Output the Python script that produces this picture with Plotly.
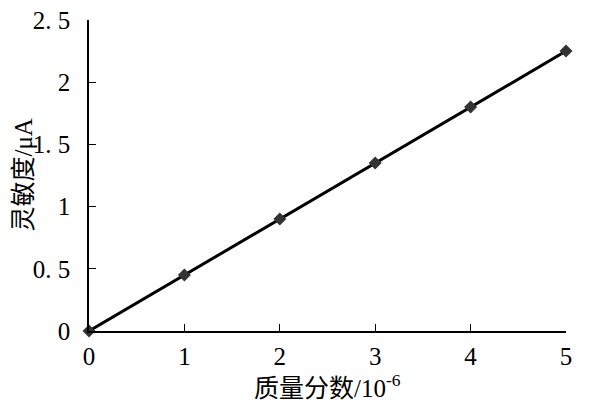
import plotly.graph_objects as go

mass_fraction = [0, 1, 2, 3, 4, 5]
sensitivity = [0, 0.45, 0.9, 1.35, 1.8, 2.25]
y_tickvals = [0, 0.5, 1, 1.5, 2, 2.5]
y_ticktext = ["0", "0. 5", "1", "1. 5", "2", "2. 5"]
x_tickvals = [0, 1, 2, 3, 4, 5]

font_fam = "Liberation Serif, Noto Sans CJK SC, serif"

fig = go.Figure()
fig.add_trace(go.Scatter(
    x=mass_fraction, y=sensitivity, mode="lines+markers",
    line=dict(color="black", width=3),
    marker=dict(symbol="diamond", size=10, color="#333333"),
    cliponaxis=False, showlegend=False,
))
fig.update_layout(
    width=600, height=400,
    margin=dict(l=81, r=42, t=12, b=77, autoexpand=False),
    paper_bgcolor="white", plot_bgcolor="white",
    font=dict(family=font_fam, size=25, color="black"),
    xaxis=dict(
        range=[0, 5], tickvals=x_tickvals, ticks="inside", ticklen=7,
        tickcolor="black", showline=True, linecolor="black", linewidth=1.5,
        showgrid=False, zeroline=False, ticklabelstandoff=2, automargin=False,
        ticklabeloverflow="allow",
    ),
    yaxis=dict(
        range=[0, 2.5001], tickvals=y_tickvals, ticktext=y_ticktext,
        ticks="inside", ticklen=7, tickcolor="black",
        showline=True, linecolor="black", linewidth=1.5,
        showgrid=False, zeroline=False, ticklabelstandoff=12, automargin=False,
        ticklabeloverflow="allow",
    ),
    annotations=[
        dict(text="质量分数/10<sup>-6</sup>", x=0.5, y=0, xref="paper", yref="paper",
             xanchor="center", yanchor="top", yshift=-37, showarrow=False,
             font=dict(size=25, family=font_fam)),
        dict(text="灵敏度/μA", x=0, y=0.5, xref="paper", yref="paper",
             xanchor="center", yanchor="middle", xshift=-66, textangle=-90,
             showarrow=False, font=dict(size=25, family=font_fam)),
    ],
)
fig.write_html("out.html")
